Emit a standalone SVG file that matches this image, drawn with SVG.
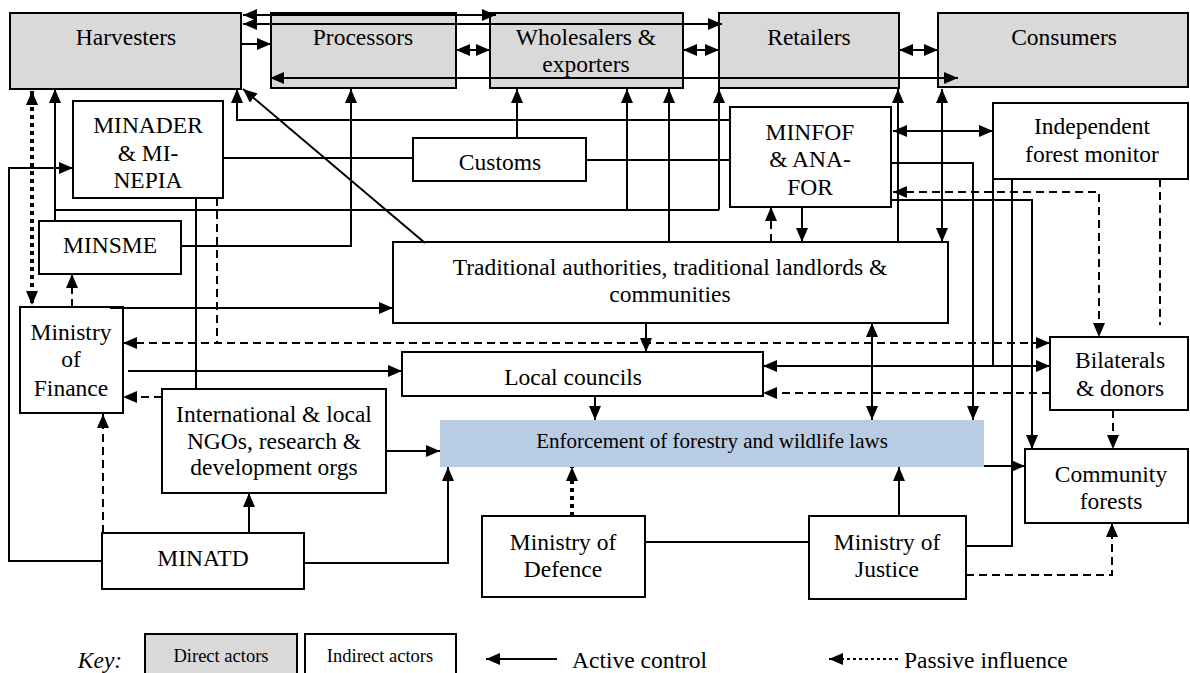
<svg xmlns="http://www.w3.org/2000/svg" width="1190" height="673" viewBox="0 0 1190 673">
<defs>
<style>
.n{fill:#fff;stroke:#000;stroke-width:2}
.d{fill:#d9d9d9;stroke:#000;stroke-width:2}
.t{font-family:"Liberation Serif","Times New Roman",serif;font-size:23.5px;text-anchor:middle;fill:#000}
.s{font-size:21px}
.k{font-size:18.5px}
.c{fill:none;stroke:#000;stroke-width:2}
.ds{stroke-dasharray:8 5}
.dt{stroke-width:4;stroke-dasharray:4 4}
</style>
<marker id="ah" viewBox="0 0 14 12" refX="14" refY="6" markerWidth="14" markerHeight="12" markerUnits="userSpaceOnUse" orient="auto-start-reverse"><path d="M0,0 L14,6 L0,12 z" fill="#000"/></marker>
</defs>

<g id="harvesters"><rect class="d" x="10" y="13" width="231" height="76"/><text class="t" x="126" y="45">Harvesters</text></g>
<g id="processors"><rect class="d" x="271" y="13" width="185" height="75"/><text class="t" x="363" y="45">Processors</text></g>
<g id="wholesalers"><rect class="d" x="490" y="13" width="193" height="75"/><text class="t" x="586" y="45">Wholesalers &amp;</text><text class="t" x="586" y="72">exporters</text></g>
<g id="retailers"><rect class="d" x="719" y="13" width="180" height="75"/><text class="t" x="809" y="45">Retailers</text></g>
<g id="consumers"><rect class="d" x="938" y="13" width="250" height="74"/><text class="t" x="1064" y="45">Consumers</text></g>

<g id="minader"><rect class="n" x="73" y="101" width="150" height="97"/><text class="t" x="148" y="133">MINADER</text><text class="t" x="148" y="161">&amp; MI-</text><text class="t" x="148" y="188">NEPIA</text></g>
<g id="customs"><rect class="n" x="413" y="138" width="173" height="43"/><text class="t" x="500" y="170">Customs</text></g>
<g id="minfof"><rect class="n" x="730" y="107" width="161" height="100"/><text class="t" x="810" y="140">MINFOF</text><text class="t" x="810" y="167">&amp; ANA-</text><text class="t" x="810" y="195">FOR</text></g>
<g id="ifm"><rect class="n" x="993" y="103" width="195" height="76"/><text class="t" x="1092" y="134">Independent</text><text class="t" x="1092" y="162">forest monitor</text></g>
<g id="minsme"><rect class="n" x="39" y="221" width="142" height="53"/><text class="t" x="110" y="253">MINSME</text></g>
<g id="traditional"><rect class="n" x="393" y="242" width="555" height="81"/><text class="t" x="670" y="275">Traditional authorities, traditional landlords &amp;</text><text class="t" x="670" y="302">communities</text></g>
<g id="finance"><rect class="n" x="20" y="307" width="103" height="106"/><text class="t" x="71" y="340">Ministry</text><text class="t" x="71" y="367">of</text><text class="t" x="71" y="396">Finance</text></g>
<g id="local"><rect class="n" x="402" y="352" width="361" height="44"/><text class="t" x="573" y="385">Local councils</text></g>
<g id="bilaterals"><rect class="n" x="1050" y="337" width="138" height="73"/><text class="t" x="1120" y="368">Bilaterals</text><text class="t" x="1120" y="396">&amp; donors</text></g>
<g id="ngos"><rect class="n" x="162" y="389" width="224" height="104"/><text class="t" x="274" y="422">International &amp; local</text><text class="t" x="274" y="449">NGOs, research &amp;</text><text class="t" x="274" y="475">development orgs</text></g>
<g id="enforcement"><rect x="440" y="420" width="544" height="47" fill="#b8cce4"/><text class="t s" x="712" y="448">Enforcement of forestry and wildlife laws</text></g>
<g id="community"><rect class="n" x="1025" y="449" width="163" height="74"/><text class="t" x="1111" y="482">Community</text><text class="t" x="1111" y="509">forests</text></g>
<g id="minatd"><rect class="n" x="102" y="533" width="202" height="56"/><text class="t" x="203" y="566">MINATD</text></g>
<g id="defence"><rect class="n" x="482" y="516" width="163" height="81"/><text class="t" x="563" y="550">Ministry of</text><text class="t" x="563" y="577">Defence</text></g>
<g id="justice"><rect class="n" x="809" y="516" width="157" height="83"/><text class="t" x="887" y="550">Ministry of</text><text class="t" x="887" y="577">Justice</text></g>

<g id="connectors">
<!-- top row -->
<path class="c" d="M243,15 H496" marker-start="url(#ah)" marker-end="url(#ah)"/>
<path class="c" d="M243,24 H722" marker-start="url(#ah)" marker-end="url(#ah)"/>
<path class="c" d="M241,44 H271" marker-end="url(#ah)"/>
<path class="c" d="M456,50 H490" marker-start="url(#ah)" marker-end="url(#ah)"/>
<path class="c" d="M683,50 H719" marker-start="url(#ah)" marker-end="url(#ah)"/>
<path class="c" d="M899,50 H938" marker-start="url(#ah)" marker-end="url(#ah)"/>
<path class="c" d="M270,78 H958" marker-start="url(#ah)" marker-end="url(#ah)"/>
<!-- left side -->
<path class="c dt" d="M32,91 V305" marker-start="url(#ah)" marker-end="url(#ah)"/>
<path class="c" d="M55,221 V89" marker-end="url(#ah)"/>
<path class="c" d="M55,210 H719"/>
<path class="c" d="M627,210 V89" marker-end="url(#ah)"/>
<path class="c" d="M719,210 V89" marker-end="url(#ah)"/>
<path class="c" d="M181,246 H351 V89" marker-end="url(#ah)"/>
<path class="c" d="M730,120 H237 V89" marker-end="url(#ah)"/>
<path class="c" d="M425,243 L243,89" marker-end="url(#ah)"/>
<path class="c" d="M223,158 H413"/>
<path class="c" d="M586,160 H730"/>
<path class="c" d="M517,138 V89" marker-end="url(#ah)"/>
<path class="c" d="M196,198 V389"/>
<path class="c ds" d="M217,198 V343"/>
<path class="c ds" d="M123,343 H1050" marker-start="url(#ah)" marker-end="url(#ah)"/>
<path class="c" d="M102,561 H9 V168 H73" marker-end="url(#ah)"/>
<path class="c" d="M249,533 V493" marker-end="url(#ah)"/>
<path class="c ds" d="M103,533 V414" marker-end="url(#ah)"/>
<path class="c" d="M304,563 H448 V467" marker-end="url(#ah)"/>
<path class="c" d="M386,451 H440" marker-end="url(#ah)"/>
<path class="c ds" d="M162,397 H123" marker-end="url(#ah)"/>
<path class="c" d="M128,371 H402" marker-end="url(#ah)"/>
<path class="c" d="M110,308 H393" marker-end="url(#ah)"/>
<path class="c ds" d="M72,307 V274" marker-end="url(#ah)"/>
<!-- centre -->
<path class="c" d="M669,242 V89" marker-end="url(#ah)"/>
<path class="c ds" d="M771,242 V207" marker-end="url(#ah)"/>
<path class="c" d="M802,207 V242" marker-end="url(#ah)"/>
<path class="c" d="M898,242 V89" marker-end="url(#ah)"/>
<path class="c" d="M942,242 V89" marker-start="url(#ah)" marker-end="url(#ah)"/>
<path class="c" d="M646,323 V352" marker-end="url(#ah)"/>
<path class="c" d="M872,323 V420" marker-start="url(#ah)" marker-end="url(#ah)"/>
<path class="c" d="M595,396 V420" marker-end="url(#ah)"/>
<!-- right side -->
<path class="c" d="M893,131 H993" marker-start="url(#ah)" marker-end="url(#ah)"/>
<path class="c" d="M891,163 H973 V420" marker-end="url(#ah)"/>
<path class="c" d="M891,200 H1032 V449" marker-end="url(#ah)"/>
<path class="c ds" d="M893,192 H1099 V337" marker-start="url(#ah)" marker-end="url(#ah)"/>
<path class="c ds" d="M1160,179 V325"/>
<path class="c" d="M993,179 V366"/>
<path class="c" d="M763,366 H1050" marker-start="url(#ah)" marker-end="url(#ah)"/>
<path class="c" d="M1012,179 V546 H966"/>
<path class="c ds" d="M1050,393 H763" marker-end="url(#ah)"/>
<path class="c ds" d="M1113,410 V449" marker-end="url(#ah)"/>
<path class="c" d="M984,466 H1025" marker-end="url(#ah)"/>
<!-- bottom -->
<path class="c dt" d="M572,516 V467" marker-end="url(#ah)"/>
<path class="c" d="M645,542 H809"/>
<path class="c" d="M899,516 V467" marker-end="url(#ah)"/>
<path class="c ds" d="M966,575 H1112 V523" marker-end="url(#ah)"/>
</g>

<g id="key">
<text class="t" x="100" y="668" font-style="italic">Key:</text>
<rect class="d" x="145" y="634" width="152" height="50"/>
<text class="t k" x="221" y="662">Direct actors</text>
<rect class="n" x="305" y="634" width="151" height="50"/>
<text class="t k" x="380" y="662">Indirect actors</text>
<path class="c" d="M557,659 H486" marker-end="url(#ah)"/>
<text class="t" x="572" y="668" text-anchor="start" style="text-anchor:start">Active control</text>
<path class="c" d="M898,659 H829" marker-end="url(#ah)" stroke-width="3" stroke-dasharray="3 3"/>
<text class="t" x="904" y="668" style="text-anchor:start">Passive influence</text>
</g>
</svg>
